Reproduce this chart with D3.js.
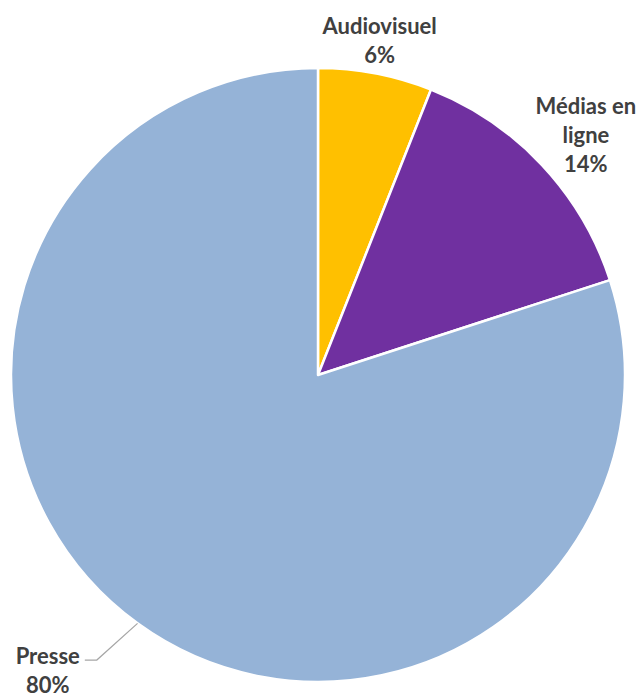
<!DOCTYPE html>
<html>
<head>
<meta charset="utf-8">
<script src="https://cdn.jsdelivr.net/npm/d3@7"></script>
<style>
  body { margin: 0; background: #fff; }
  text { font-family: Lato, "Open Sans", sans-serif; font-weight: bold; fill: #404040; }
</style>
</head>
<body>
<div id="chart"></div>
<script>
// chart data
var categories = ["Audiovisuel", "Médias en ligne", "Presse"];
var values = [6, 14, 80];
var labelLines = [["Audiovisuel", "6%"], ["Médias en", "ligne", "14%"], ["Presse", "80%"]];
var colors = ["#FFC000", "#7030A0", "#95B3D7"];

var width = 643, height = 699;
var cx = 318, cy = 375, radius = 307;

var svg = d3.select("#chart")
  .append("svg")
  .attr("width", width)
  .attr("height", height);

var g = svg.append("g")
  .attr("transform", "translate(" + cx + "," + cy + ")");

var data = categories.map(function(c, i) { return {name: c, value: values[i], lines: labelLines[i], color: colors[i]}; });

var pie = d3.pie()
  .value(function(d) { return d.value; })
  .sort(null);

var arc = d3.arc()
  .innerRadius(0)
  .outerRadius(radius);

var arcs = pie(data);

g.selectAll("path.slice")
  .data(arcs)
  .enter()
  .append("path")
  .attr("class", "slice")
  .attr("d", arc)
  .attr("fill", function(d) { return d.data.color; })
  .attr("stroke", "#fff")
  .attr("stroke-width", 2.5)
  .attr("stroke-linejoin", "round");

// label placement (radius from centre + small nudges), the big slice gets a leader line
var fontSize = 22;
var lineH = 29;
var labelConf = [
  {r: 340, dx: -2, dy: 0, leader: false},
  {r: 362, dx: 4, dy: 8, leader: false},
  {r: 361, dx: -9, dy: -7, leader: true}
];

function polar(angle, r) {
  return [Math.sin(angle) * r, -Math.cos(angle) * r];
}

arcs.forEach(function(d, i) {
  var conf = labelConf[i];
  var mid = (d.startAngle + d.endAngle) / 2;
  var lines = d.data.lines;

  if (!conf.leader) {
    var p = polar(mid, conf.r);
    var x = p[0] + conf.dx, y = p[1] + conf.dy;
    var y0 = y - (lines.length - 1) * lineH / 2;
    var t = g.append("text")
      .attr("text-anchor", "middle")
      .attr("font-size", fontSize);
    lines.forEach(function(l, j) {
      t.append("tspan")
        .attr("x", x)
        .attr("y", y0 + j * lineH)
        .attr("dy", "0.35em")
        .text(l);
    });
  } else {
    var a = polar(mid, radius);
    var e = polar(mid, conf.r);
    e = [e[0] + conf.dx, e[1] + conf.dy];
    var end = [e[0] - 12, e[1]];
    g.append("polyline")
      .attr("points", [a, e, end].map(function(p) { return p.join(","); }).join(" "))
      .attr("fill", "none")
      .attr("stroke", "#A6A6A6")
      .attr("stroke-width", 1.2);
    var tx = end[0] - 5;
    g.append("text")
      .attr("text-anchor", "end")
      .attr("font-size", fontSize)
      .attr("x", tx)
      .attr("y", end[1] - 4)
      .attr("dy", "0.35em")
      .text(lines[0]);
    g.append("text")
      .attr("text-anchor", "middle")
      .attr("font-size", fontSize)
      .attr("x", tx - 32)
      .attr("y", end[1] + 25)
      .attr("dy", "0.35em")
      .text(lines[1]);
  }
});
</script>
</body>
</html>
